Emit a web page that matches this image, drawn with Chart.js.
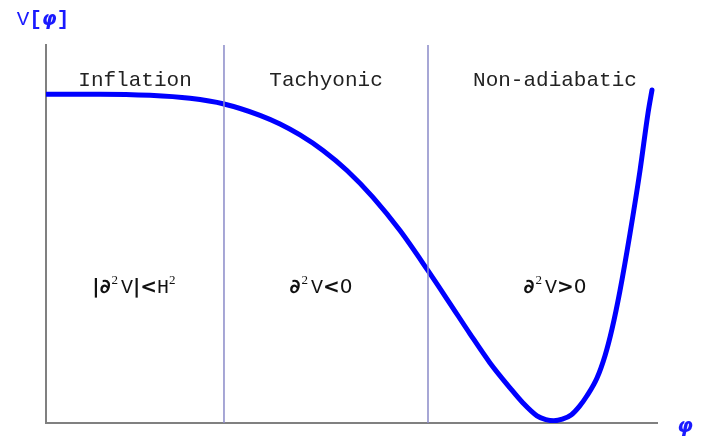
<!DOCTYPE html>
<html>
<head>
<meta charset="utf-8">
<script src="https://cdn.jsdelivr.net/npm/chart.js@4/dist/chart.umd.min.js"></script>
<style>
  html, body { margin: 0; padding: 0; background: #fff; }
  #wrap { width: 710px; height: 438px; }
</style>
</head>
<body>
<div id="wrap"><canvas id="potChart"></canvas></div>
<script>
// potential curve V(phi)
const phiVals = [0, 0.884, 1.702, 2.357, 2.913, 3.502, 3.830, 4.157, 4.534, 4.926, 5.352, 5.794,
                 6.252, 6.612, 6.939, 7.267, 7.594, 7.807, 8.036, 8.18, 8.31, 8.45, 8.60, 8.73,
                 8.854, 9.018, 9.149, 9.264, 9.394, 9.558, 9.722, 9.853, 9.918];
const potVals = [0.870, 0.870, 0.867, 0.859, 0.844, 0.814, 0.791, 0.762, 0.721, 0.668, 0.597, 0.509,
                 0.403, 0.316, 0.236, 0.159, 0.093, 0.053, 0.019, 0.009, 0.006, 0.010, 0.022, 0.044,
                 0.072, 0.119, 0.178, 0.249, 0.350, 0.501, 0.668, 0.820, 0.881];

// region boundaries and labels
const regionBounds = [2.913, 6.252];
const regionNames = ['Inflation', 'Tachyonic', 'Non-adiabatic'];
const regionCenters = [1.457, 4.583, 8.33];
const conditionCenters = [1.44, 4.50, 8.33];

const mono = '"Liberation Mono", "Courier New", monospace';
const sans = '"DejaVu Sans", sans-serif';
const serif = '"Liberation Serif", serif';

// condition text pieces: [text, font, raise, extra gap after]
const conditions = [
  [['|\u2202', 'bold 20px ' + sans, 0, 1], ['2', '13px ' + serif, 9, 3], ['V', '20px ' + mono, 0, 0],
   ['|<', 'bold 20px ' + sans, 0, 0], ['H', '20px ' + mono, 0, 0], ['2', '13px ' + serif, 9, 0]],
  [['\u2202', 'bold 20px ' + sans, 0, 1], ['2', '13px ' + serif, 9, 3], ['V', '20px ' + mono, 0, 0],
   ['<', 'bold 20px ' + sans, 0, 0], ['0', '20px ' + sans, 0, 0]],
  [['\u2202', 'bold 20px ' + sans, 0, 1], ['2', '13px ' + serif, 9, 3], ['V', '20px ' + mono, 0, 0],
   ['>', 'bold 20px ' + sans, 0, 0], ['0', '20px ' + sans, 0, 0]]
];

function drawPieces(ctx, pieces, cx, baseline, color) {
  let total = 0;
  for (let p of pieces) { ctx.font = p[1]; total += ctx.measureText(p[0]).width + (p[3] || 0); }
  let x = cx - total / 2;
  ctx.fillStyle = color;
  for (let p of pieces) {
    ctx.font = p[1];
    ctx.fillText(p[0], x, baseline - p[2]);
    x += ctx.measureText(p[0]).width + (p[3] || 0);
  }
}

const labelPlugin = {
  id: 'labels',
  afterDatasetsDraw(chart) {
    const ctx = chart.ctx;
    const xs = chart.scales.x, ys = chart.scales.y;
    ctx.save();
    ctx.textBaseline = 'alphabetic';
    ctx.textAlign = 'left';
    for (let i = 0; i < regionNames.length; i++) {
      drawPieces(ctx, [[regionNames[i], '21px ' + mono, 0]], xs.getPixelForValue(regionCenters[i]), ys.getPixelForValue(0.892), '#222');
      drawPieces(ctx, conditions[i], xs.getPixelForValue(conditionCenters[i]), ys.getPixelForValue(0.345), '#111');
    }
    // axis names
    const area = chart.chartArea;
    drawPieces(ctx, [['V', '21px ' + mono, 0], ['[', 'bold 21px ' + mono, 0], ['\u03c6', 'bold italic 19px ' + sans, 0], [']', 'bold 21px ' + mono, 0]], area.left - 3, area.top - 20, '#1a1aff');
    drawPieces(ctx, [['\u03c6', 'bold italic 20px ' + sans, 0]], area.right + 28, area.bottom + 9, '#1a1aff');
    ctx.restore();
  }
};

const boundarySets = regionBounds.map(b => ({
  data: [{x: b, y: 0}, {x: b, y: 1}],
  borderColor: '#8a8ac8',
  borderWidth: 1.5,
  pointRadius: 0,
  tension: 0
}));

new Chart(document.getElementById('potChart').getContext('2d'), {
  type: 'line',
  data: {
    datasets: [
      ...boundarySets,
      {
        data: phiVals.map((p, i) => ({x: p, y: potVals[i]})),
        borderColor: '#0000ff',
        borderWidth: 5,
        pointRadius: 0,
        cubicInterpolationMode: 'monotone',
        borderCapStyle: 'round'
      }
    ]
  },
  options: {
    responsive: true,
    maintainAspectRatio: false,
    animation: false,
    layout: { padding: { left: 38, right: 53, top: 45, bottom: 7 } },
    plugins: { legend: { display: false }, tooltip: { enabled: false } },
    scales: {
      x: {
        type: 'linear', min: 0, max: 10,
        ticks: { display: false },
        grid: { display: false },
        border: { display: true, color: '#808080', width: 2 }
      },
      y: {
        type: 'linear', min: 0, max: 1,
        ticks: { display: false },
        grid: { display: false },
        border: { display: true, color: '#808080', width: 2 }
      }
    }
  },
  plugins: [labelPlugin]
});
</script>
</body>
</html>
